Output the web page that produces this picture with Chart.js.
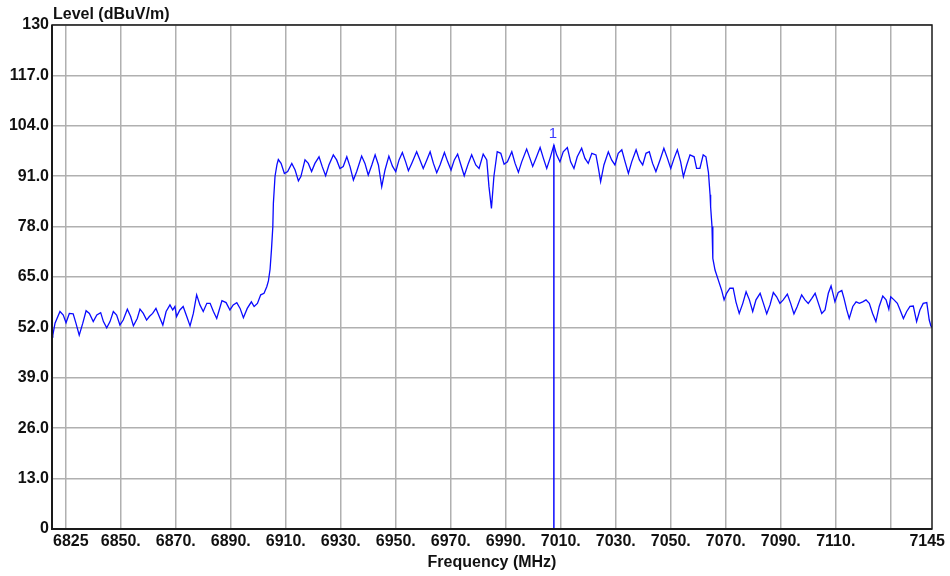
<!DOCTYPE html>
<html>
<head>
<meta charset="utf-8">
<script src="https://cdn.jsdelivr.net/npm/chart.js@4.4.1/dist/chart.umd.min.js"></script>
<style>
  html, body { margin: 0; padding: 0; background: #fff; }
  #wrap { width: 950px; height: 576px; }
</style>
</head>
<body>
<div id="wrap"><canvas id="chart" width="950" height="576"></canvas></div>
<script>
// spectrum trace
const freqMHz = [
  6825.0, 6825.3, 6826.1, 6827.9, 6829.1, 6830.1, 6831.3, 6832.7, 6833.7, 6834.9,
  6836.2, 6837.4, 6838.6, 6840.0, 6841.3, 6842.7, 6843.7, 6844.9, 6846.1, 6847.3,
  6848.5, 6849.7, 6850.9, 6852.4, 6853.6, 6854.6, 6856.0, 6857.0, 6858.2, 6859.4,
  6860.4, 6861.6, 6862.8, 6864.0, 6865.3, 6866.5, 6867.9, 6868.9, 6869.7, 6870.3,
  6871.5, 6872.7, 6874.0, 6875.2, 6876.4, 6877.6, 6878.8, 6880.0, 6881.3, 6882.5,
  6883.7, 6884.9, 6885.8, 6886.8, 6888.3, 6889.7, 6890.9, 6892.2, 6893.4, 6894.6,
  6896.0, 6897.5, 6898.5, 6899.7, 6900.9, 6902.1, 6903.1, 6903.7, 6904.3, 6904.8,
  6905.3, 6905.5, 6906.1, 6906.8, 6907.3, 6908.3, 6909.5, 6910.7, 6912.2, 6913.4,
  6914.6, 6915.5, 6917.0, 6918.2, 6919.4, 6920.6, 6922.1, 6923.3, 6924.5, 6925.7,
  6927.3, 6928.5, 6929.7, 6930.9, 6932.2, 6933.4, 6934.6, 6935.8, 6937.6, 6938.8,
  6940.0, 6941.3, 6942.5, 6943.7, 6944.9, 6946.1, 6947.5, 6948.8, 6950.0, 6951.2,
  6952.4, 6953.6, 6954.6, 6955.8, 6957.6, 6958.8, 6960.0, 6961.3, 6962.5, 6963.7,
  6964.9, 6966.1, 6967.7, 6968.9, 6970.1, 6971.3, 6972.5, 6973.7, 6974.9, 6976.4,
  6977.6, 6979.1, 6980.3, 6981.8, 6983.1, 6983.9, 6984.8, 6985.7, 6986.9, 6988.2,
  6989.4, 6990.6, 6992.2, 6993.4, 6994.6, 6995.8, 6997.6, 6998.8, 6999.8, 7001.0,
  7002.5, 7003.7, 7004.9, 7006.1, 7007.5, 7008.5, 7009.7, 7010.9, 7012.4, 7013.6,
  7014.8, 7016.0, 7017.6, 7018.8, 7020.0, 7021.3, 7022.8, 7023.7, 7024.5, 7025.7,
  7027.3, 7028.5, 7029.7, 7030.9, 7032.2, 7033.4, 7034.6, 7035.8, 7037.4, 7038.6,
  7039.8, 7041.0, 7042.2, 7043.4, 7044.6, 7046.1, 7047.5, 7048.8, 7050.0, 7051.2,
  7052.4, 7053.6, 7054.6, 7055.8, 7057.0, 7058.5, 7059.4, 7060.6, 7061.8, 7062.8,
  7063.7, 7064.3, 7064.5, 7065.0, 7065.3, 7066.1, 7067.3, 7068.5, 7069.4, 7070.3,
  7071.5, 7072.7, 7073.7, 7074.9, 7076.2, 7077.4, 7078.6, 7079.8, 7081.0, 7082.5,
  7083.7, 7084.9, 7086.1, 7087.3, 7088.5, 7089.7, 7090.9, 7092.4, 7093.6, 7094.8,
  7096.0, 7097.6, 7098.8, 7100.0, 7101.3, 7102.5, 7103.7, 7104.9, 7106.1, 7107.3,
  7108.3, 7109.1, 7109.7, 7110.9, 7112.2, 7113.0, 7114.0, 7114.9, 7116.2, 7117.4,
  7118.6, 7119.8, 7121.0, 7122.2, 7123.4, 7124.6, 7125.8, 7127.1, 7128.3, 7129.3,
  7130.0, 7131.2, 7132.4, 7133.4, 7134.6, 7135.8, 7137.0, 7138.2, 7139.4, 7140.6,
  7141.8, 7143.1, 7144.0, 7144.6, 7145.0
];
const levelDb = [
  49.5, 50.0, 53.1, 56.1, 55.2, 53.2, 55.6, 55.5, 53.1, 50.0,
  53.1, 56.3, 55.6, 53.5, 55.2, 55.8, 53.5, 51.9, 53.5, 56.1,
  55.2, 52.6, 53.9, 56.7, 54.8, 52.4, 54.3, 56.7, 55.6, 53.9,
  54.8, 55.6, 56.9, 54.8, 52.6, 56.1, 57.8, 56.5, 57.4, 54.8,
  56.5, 57.4, 54.8, 52.4, 55.6, 60.4, 57.8, 56.1, 58.2, 58.2,
  56.1, 54.3, 56.5, 58.9, 58.4, 56.5, 57.8, 58.4, 56.9, 54.5,
  56.9, 58.6, 57.4, 58.2, 60.4, 60.8, 62.5, 64.0, 67.0, 72.0,
  78.0, 84.0, 91.0, 94.0, 95.3, 94.3, 91.7, 92.2, 94.3, 92.6,
  89.8, 90.9, 95.2, 94.3, 92.2, 94.3, 96.0, 93.4, 91.1, 93.9,
  96.5, 95.2, 93.0, 93.5, 96.0, 93.4, 90.0, 92.2, 96.2, 94.3,
  91.3, 93.9, 96.5, 93.9, 88.3, 92.6, 96.2, 93.6, 92.2, 95.2,
  97.1, 94.7, 92.4, 94.3, 97.3, 95.2, 93.0, 95.2, 97.3, 94.3,
  91.9, 93.9, 97.1, 94.7, 92.6, 95.2, 96.7, 93.9, 91.1, 94.3,
  96.5, 93.9, 93.0, 96.7, 95.2, 88.3, 82.7, 91.0, 97.3, 96.9,
  94.1, 94.7, 97.3, 94.3, 92.0, 94.7, 98.0, 95.6, 93.5, 95.6,
  98.4, 95.6, 93.0, 95.6, 99.0, 96.5, 94.7, 97.3, 98.4, 94.7,
  93.0, 96.0, 98.2, 95.6, 94.3, 96.9, 96.5, 93.0, 89.6, 93.9,
  97.3, 95.2, 93.9, 96.9, 97.8, 94.7, 91.7, 94.7, 97.8, 95.2,
  93.9, 96.9, 97.3, 94.3, 92.2, 95.2, 98.2, 95.6, 93.0, 95.6,
  97.8, 94.7, 90.9, 93.9, 96.5, 96.0, 93.0, 93.0, 96.5, 96.0,
  92.0, 86.2, 83.1, 78.0, 69.8, 66.8, 64.2, 61.6, 59.1, 60.8,
  62.1, 62.1, 58.6, 55.6, 58.2, 61.2, 59.1, 56.1, 59.1, 60.8,
  58.2, 55.5, 57.8, 61.0, 59.9, 58.2, 59.1, 60.6, 58.2, 55.5,
  57.4, 60.4, 59.1, 58.2, 59.5, 60.8, 58.2, 55.6, 56.5, 60.8,
  62.7, 60.4, 58.6, 61.0, 61.5, 59.5, 56.5, 54.3, 57.4, 58.6,
  58.2, 58.6, 59.1, 58.2, 55.6, 53.5, 57.4, 60.1, 59.1, 56.7,
  59.9, 59.1, 58.2, 56.5, 54.3, 56.1, 57.4, 57.5, 53.5, 56.5,
  58.2, 58.4, 53.9, 52.4, 52.0
];

// marker 1
const markerFreq = 7007.5;
const markerLevel = 99.0;
const markerText = "1";

// axes
const xMin = 6825, xMax = 7145;
const yMin = 0, yMax = 130, yStep = 13;
const xGridValues = [6830, 6850, 6870, 6890, 6910, 6930, 6950, 6970, 6990, 7010, 7030, 7050, 7070, 7090, 7110, 7130];
const xLabelValues = [6825, 6850, 6870, 6890, 6910, 6930, 6950, 6970, 6990, 7010, 7030, 7050, 7070, 7090, 7110, 7145];
const xLabelTexts = ["6825", "6850.", "6870.", "6890.", "6910.", "6930.", "6950.", "6970.", "6990.", "7010.", "7030.", "7050.", "7070.", "7090.", "7110.", "7145"];
const yTitle = "Level (dBuV/m)";
const xTitle = "Frequency (MHz)";

const FONT = 'Arial, "Liberation Sans", sans-serif';
const BLUE = '#0a0aff';

const frame = {
  id: 'frame',
  afterDatasetsDraw(chart) {
    const { ctx, chartArea: a, scales: { x, y } } = chart;
    ctx.save();
    // box
    ctx.strokeStyle = '#1a1a1a';
    ctx.lineWidth = 1.5;
    ctx.strokeRect(a.left, a.top, a.right - a.left, a.bottom - a.top);
    ctx.lineWidth = 2;
    ctx.beginPath();
    ctx.moveTo(a.left, a.top);
    ctx.lineTo(a.left, a.bottom);
    ctx.lineTo(a.right, a.bottom);
    ctx.stroke();

    // x tick labels
    ctx.font = 'bold 16px ' + FONT;
    ctx.fillStyle = '#111';
    ctx.textBaseline = 'middle';
    const last = xLabelValues.length - 1;
    xLabelValues.forEach((v, i) => {
      const px = x.getPixelForValue(v);
      if (i === 0) { ctx.textAlign = 'left'; ctx.fillText(xLabelTexts[i], px + 1, a.bottom + 13); }
      else if (i === last) { ctx.textAlign = 'right'; ctx.fillText(xLabelTexts[i], px + 13, a.bottom + 13); }
      else { ctx.textAlign = 'center'; ctx.fillText(xLabelTexts[i], px, a.bottom + 13); }
    });

    // titles
    ctx.textAlign = 'left';
    ctx.fillText(yTitle, a.left + 1, 15);
    ctx.textAlign = 'center';
    ctx.fillText(xTitle, (a.left + a.right) / 2, 563);

    // marker label
    ctx.font = '15px ' + FONT;
    ctx.fillStyle = '#3b3bff';
    ctx.textBaseline = 'bottom';
    ctx.fillText(markerText, x.getPixelForValue(markerFreq) - 1, y.getPixelForValue(markerLevel) - 4);
    ctx.restore();
  }
};

new Chart(document.getElementById('chart'), {
  type: 'line',
  data: {
    datasets: [
      {
        data: freqMHz.map((f, i) => ({ x: f, y: levelDb[i] })),
        borderColor: BLUE,
        borderWidth: 1.3,
        pointRadius: 0,
        tension: 0
      },
      {
        data: [{ x: markerFreq, y: yMin }, { x: markerFreq, y: markerLevel }],
        borderColor: BLUE,
        borderWidth: 1.5,
        pointRadius: 0
      }
    ]
  },
  options: {
    responsive: false,
    animation: false,
    layout: { padding: { top: 25, right: 18, left: 0, bottom: 0 } },
    plugins: { legend: { display: false }, tooltip: { enabled: false } },
    scales: {
      x: {
        type: 'linear',
        min: xMin,
        max: xMax,
        afterBuildTicks: scale => { scale.ticks = xGridValues.map(v => ({ value: v })); },
        afterFit: scale => { scale.height = 47; },
        ticks: { display: false },
        grid: { color: '#b0b0b0', lineWidth: 1.5, drawTicks: false },
        border: { display: false }
      },
      y: {
        min: yMin,
        max: yMax,
        afterFit: scale => { scale.width = 52; },
        ticks: {
          stepSize: yStep,
          padding: 3,
          color: '#111',
          font: { family: FONT, size: 16, weight: 'bold' },
          callback: v => (v === yMin || v === yMax) ? String(v) : v.toFixed(1)
        },
        grid: { color: '#b0b0b0', lineWidth: 1.5, drawTicks: false },
        border: { display: false }
      }
    }
  },
  plugins: [frame]
});
</script>
</body>
</html>
